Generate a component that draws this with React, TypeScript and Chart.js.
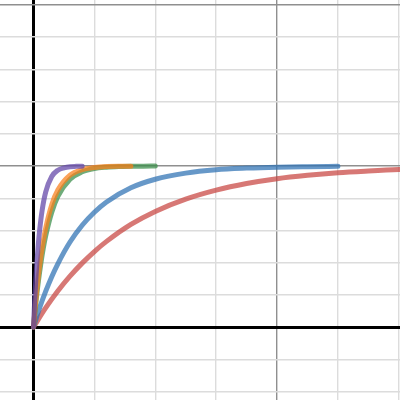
import React, { useEffect, useRef } from "react"
import Chart from "chart.js/auto"

// x positions and read-off y values for each curve
const purpleX = [0, 0.01, 0.02, 0.03, 0.04, 0.05, 0.07, 0.1, 0.15, 0.2, 0.25, 0.3, 0.35, 0.4]
const purpleY = [0, 0.166, 0.305, 0.42, 0.517, 0.597, 0.72, 0.838, 0.935, 0.974, 0.989, 0.996, 0.998, 0.999]

const orangeX = [0, 0.02, 0.04, 0.06, 0.08, 0.1, 0.15, 0.2, 0.3, 0.4, 0.5, 0.6, 0.7, 0.8]
const orangeY = [0, 0.173, 0.317, 0.435, 0.533, 0.614, 0.76, 0.851, 0.943, 0.978, 0.991, 0.997, 0.999, 0.999]

const greenX = [0, 0.02, 0.04, 0.06, 0.08, 0.1, 0.15, 0.2, 0.3, 0.4, 0.5, 0.6, 0.7, 0.8, 0.9, 1.0]
const greenY = [0, 0.154, 0.283, 0.393, 0.487, 0.565, 0.713, 0.811, 0.918, 0.964, 0.985, 0.993, 0.997, 0.999, 0.999, 1.0]

const blueX = [0, 0.05, 0.1, 0.15, 0.2, 0.3, 0.4, 0.5, 0.6, 0.8, 1.0, 1.25, 1.5, 1.75, 2.0, 2.25, 2.5]
const blueY = [0, 0.118, 0.221, 0.313, 0.393, 0.528, 0.632, 0.713, 0.777, 0.865, 0.918, 0.956, 0.977, 0.987, 0.993, 0.996, 0.998]

const redX = [0, 0.1, 0.2, 0.3, 0.4, 0.5, 0.6, 0.8, 1.0, 1.25, 1.5, 1.75, 2.0, 2.25, 2.5, 2.75, 3.0, 3.1]
const redY = [0, 0.119, 0.224, 0.316, 0.397, 0.469, 0.532, 0.637, 0.718, 0.794, 0.85, 0.891, 0.921, 0.942, 0.958, 0.969, 0.978, 0.98]

const toPoints = (xs: number[], ys: number[]) => xs.map((x, i) => ({ x, y: ys[i] }))

const line = (label: string, xs: number[], ys: number[], color: string) => ({
  label,
  data: toPoints(xs, ys),
  showLine: true,
  borderColor: color,
  backgroundColor: color,
  borderWidth: 5,
  pointRadius: 0,
  cubicInterpolationMode: "monotone" as const,
  borderCapStyle: "round" as const,
  borderJoinStyle: "round" as const,
})

const gridColor = (v: number, major: number) => {
  if (Math.abs(v) < 1e-9) return "#000000"
  const r = v / major
  if (Math.abs(r - Math.round(r)) < 1e-6) return "#8f8f8f"
  return "#dcdcdc"
}

const gridWidth = (v: number) => (Math.abs(v) < 1e-9 ? 3 : 1.4)

const App: React.FC = () => {
  const chartRef = useRef<HTMLCanvasElement | null>(null)
  const chartInstance = useRef<Chart | null>(null)

  useEffect(() => {
    if (!chartRef.current) return
    const ctx = chartRef.current.getContext("2d")
    if (!ctx) return
    if (chartInstance.current) chartInstance.current.destroy()

    chartInstance.current = new Chart(ctx, {
      type: "scatter",
      data: {
        datasets: [
          line("purple", purpleX, purpleY, "rgba(96, 66, 166, 0.72)"),
          line("orange", orangeX, orangeY, "rgba(250, 126, 25, 0.72)"),
          line("green", greenX, greenY, "rgba(56, 140, 70, 0.72)"),
          line("blue", blueX, blueY, "rgba(45, 112, 179, 0.72)"),
          line("red", redX, redY, "rgba(199, 68, 64, 0.72)"),
        ],
      },
      options: {
        animation: false,
        responsive: false,
        maintainAspectRatio: false,
        layout: { padding: 0 },
        plugins: {
          legend: { display: false },
          tooltip: { enabled: false },
        },
        scales: {
          x: {
            type: "linear",
            min: -0.275,
            max: 3.01,
            border: { display: false },
            ticks: { display: false, stepSize: 0.5, includeBounds: false },
            grid: {
              drawTicks: false,
              tickLength: 0,
              color: (c: any) => gridColor(c.tick.value, 2),
              lineWidth: (c: any) => gridWidth(c.tick.value),
            },
          },
          y: {
            type: "linear",
            min: -0.453,
            max: 2.031,
            border: { display: false },
            ticks: { display: false, stepSize: 0.2, includeBounds: false },
            grid: {
              drawTicks: false,
              tickLength: 0,
              color: (c: any) => gridColor(c.tick.value, 1),
              lineWidth: (c: any) => gridWidth(c.tick.value),
            },
          },
        },
      },
    })

    return () => {
      if (chartInstance.current) {
        chartInstance.current.destroy()
        chartInstance.current = null
      }
    }
  }, [])

  return (
    <div style={{ position: "fixed", left: 0, top: 0, width: 400, height: 400, background: "#ffffff" }}>
      <canvas ref={chartRef} width={400} height={400} style={{ width: 400, height: 400 }} />
    </div>
  )
}

export default App
